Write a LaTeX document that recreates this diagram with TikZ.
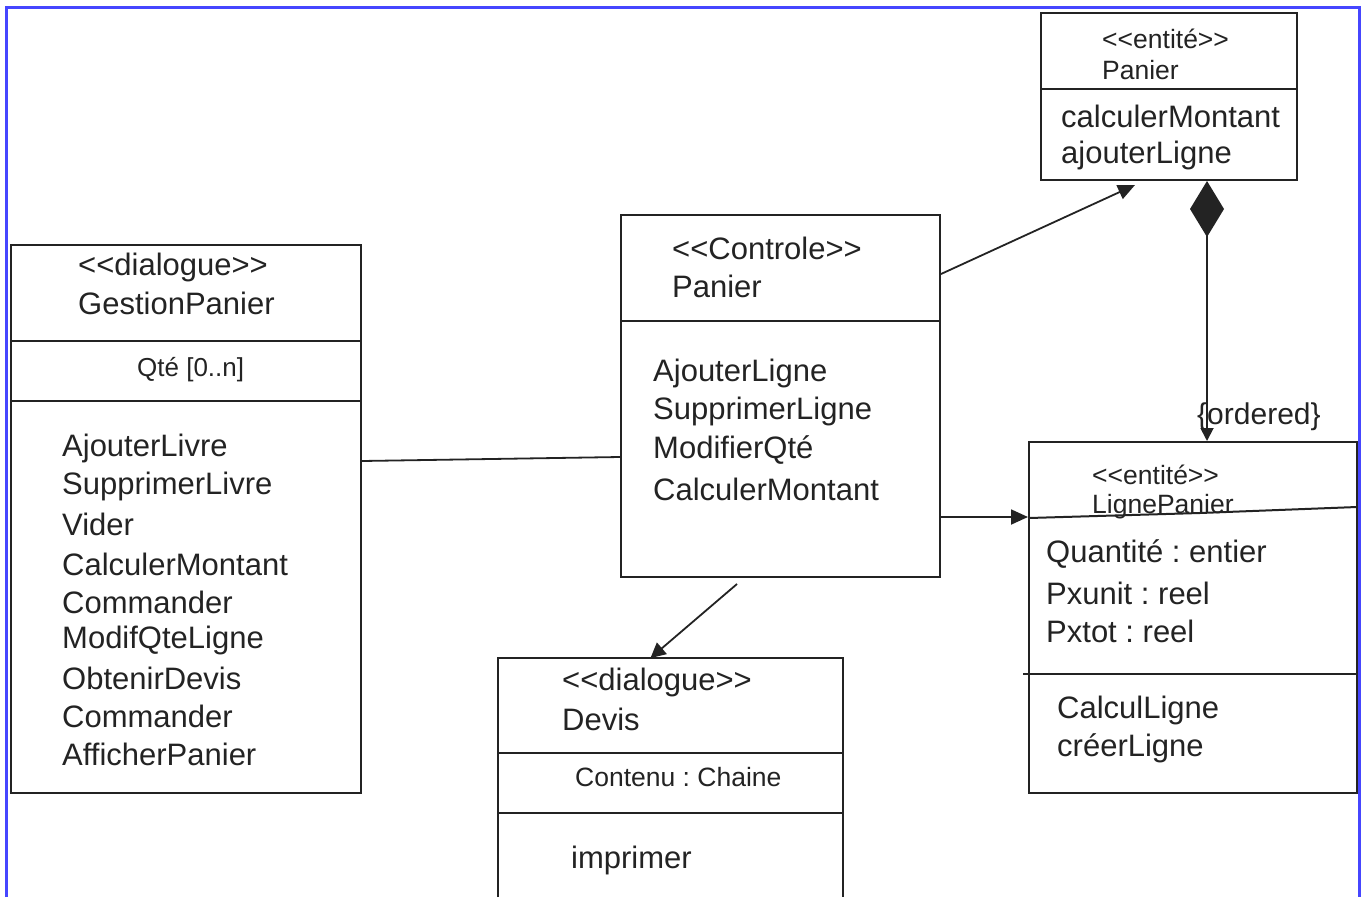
\documentclass[tikz,border=0pt]{standalone}
\usepackage{fontspec}
\setmainfont{Liberation Sans}
\usetikzlibrary{arrows.meta,calc}
\frenchspacing
\definecolor{ink}{RGB}{35,35,35}
\definecolor{frame}{RGB}{70,70,255}
\newcommand{\llt}{{<}{<}}
\newcommand{\rgt}{{>}{>}}
\tikzset{
  umlbox/.style={draw=ink, line width=2pt, inner sep=0pt},
  sep/.style={draw=ink, line width=2pt},
  conn/.style={draw=ink, line width=1.8pt},
  txt/.style={anchor=west, inner sep=0pt, yshift=-3pt, text=ink, font=\fontsize{31}{38}\selectfont},
  txts/.style={anchor=west, inner sep=0pt, yshift=-2pt, text=ink, font=\fontsize{26.5}{30}\selectfont},
  txtxs/.style={anchor=west, inner sep=0pt, yshift=-2pt, text=ink, font=\fontsize{26}{30}\selectfont},
  tip/.style={-{Triangle[length=17pt,width=15pt]}},
}
\begin{document}
\begin{tikzpicture}[x=1pt,y=-1pt]
\useasboundingbox (0,0) rectangle (1365,897);
% frame
\draw[frame, line width=3pt] (6,897) -- (6,7) -- (1359,7) -- (1359,897);

% GestionPanier
\node[umlbox, minimum width=350pt, minimum height=548pt] (gp) at (186,519) {};
\draw[sep] (11,341) -- (361,341);
\draw[sep] (11,401) -- (361,401);
\node[txt] (gp1) at (78,264) {\llt dialogue\rgt};
\node[txt] (gp2) at (78,300) {GestionPanier};
\node[txtxs] (gp3) at (137,368) {Qté [0..n]};
\node[txt] (gpo1) at (62,445) {AjouterLivre};
\node[txt] (gpo2) at (62,483) {SupprimerLivre};
\node[txt] (gpo3) at (62,521) {Vider};
\node[txt] (gpo4) at (62,561) {CalculerMontant};
\node[txt] (gpo5) at (62,599) {Commander};
\node[txt] (gpo6) at (62,637) {ModifQteLigne};
\node[txt] (gpo7) at (62,675) {ObtenirDevis};
\node[txt] (gpo8) at (62,713) {Commander};
\node[txt] (gpo9) at (62,751) {AfficherPanier};

% Controle Panier
\node[umlbox, minimum width=319pt, minimum height=362pt] (cp) at (780.5,396) {};
\draw[sep] (621,321) -- (940,321);
\node[txt] (cp1) at (672,245) {\llt Controle\rgt};
\node[txt] (cp2) at (672,283) {Panier};
\node[txt] (cpo1) at (653,370) {AjouterLigne};
\node[txt] (cpo2) at (653,408) {SupprimerLigne};
\node[txt] (cpo3) at (653,447) {ModifierQté};
\node[txt] (cpo4) at (653,486) {CalculerMontant};

% entite Panier
\node[umlbox, minimum width=256pt, minimum height=167pt] (ep) at (1169,96.5) {};
\draw[sep] (1041,89) -- (1297,89);
\node[txts] (ep1) at (1102,37) {\llt entité\rgt};
\node[txts] (ep2) at (1102,68) {Panier};
\node[txt] (epo1) at (1061,113) {calculerMontant};
\node[txt] (epo2) at (1061,152) {ajouterLigne};

% LignePanier
\node[umlbox, minimum width=328pt, minimum height=351pt] (lp) at (1193,617.5) {};
\node[txts] (lp1) at (1092,473) {\llt entité\rgt};
\node[txts] (lp2) at (1092,505) {LignePanier};
\draw[sep] (1029,518) -- (1200,513) -- (1357,507);
\draw[sep] (1023,674) -- (1357,674);
\node[txt] (lpa1) at (1046,551) {Quantité : entier};
\node[txt] (lpa2) at (1046,590) {Pxunit : reel};
\node[txt] (lpa3) at (1046,628) {Pxtot : reel};
\node[txt] (lpo1) at (1057,707) {CalculLigne};
\node[txt] (lpo2) at (1057,745) {créerLigne};

% Devis
\draw[umlbox] (498,897) -- (498,658) -- (843,658) -- (843,897);
\coordinate (dv) at (670.5,658);
\draw[sep] (498,753) -- (843,753);
\draw[sep] (498,813) -- (843,813);
\node[txt] (dv1) at (562,679) {\llt dialogue\rgt};
\node[txt] (dv2) at (562,716) {Devis};
\node[txts] (dv3) at (575,775) {Contenu : Chaine};
\node[txt] (dvo1) at (571,857) {imprimer};

% connectors
\draw[conn] ($(gp.north east)+(0,217)$) -- ($(cp.north west)+(0,243)$);
\coordinate (eptip) at (1135,185);
\draw[conn, tip] ($(cp.north east)+(0,60)$) -- (eptip);
\draw[conn, tip] ($(cp.north east)+(0,303)$) -- ($(lp.north west)+(0,76)$);
\draw[conn, -{Triangle[length=15pt,width=15pt]}] ($(cp.south west)+(117,6)$) -- ($(dv)+(-20,0)$);
\draw[conn, {Diamond[length=56pt,width=34pt]}-{Triangle[length=13pt,width=13pt]}]
  ($(ep.south west)+(167,0)$) -- ($(lp.north west)+(179,0)$);
\node[anchor=west, inner sep=0pt, yshift=-3pt, text=ink, font=\fontsize{30}{36}\selectfont] (ord) at (1197,414) {\{ordered\}};
\end{tikzpicture}
\end{document}
